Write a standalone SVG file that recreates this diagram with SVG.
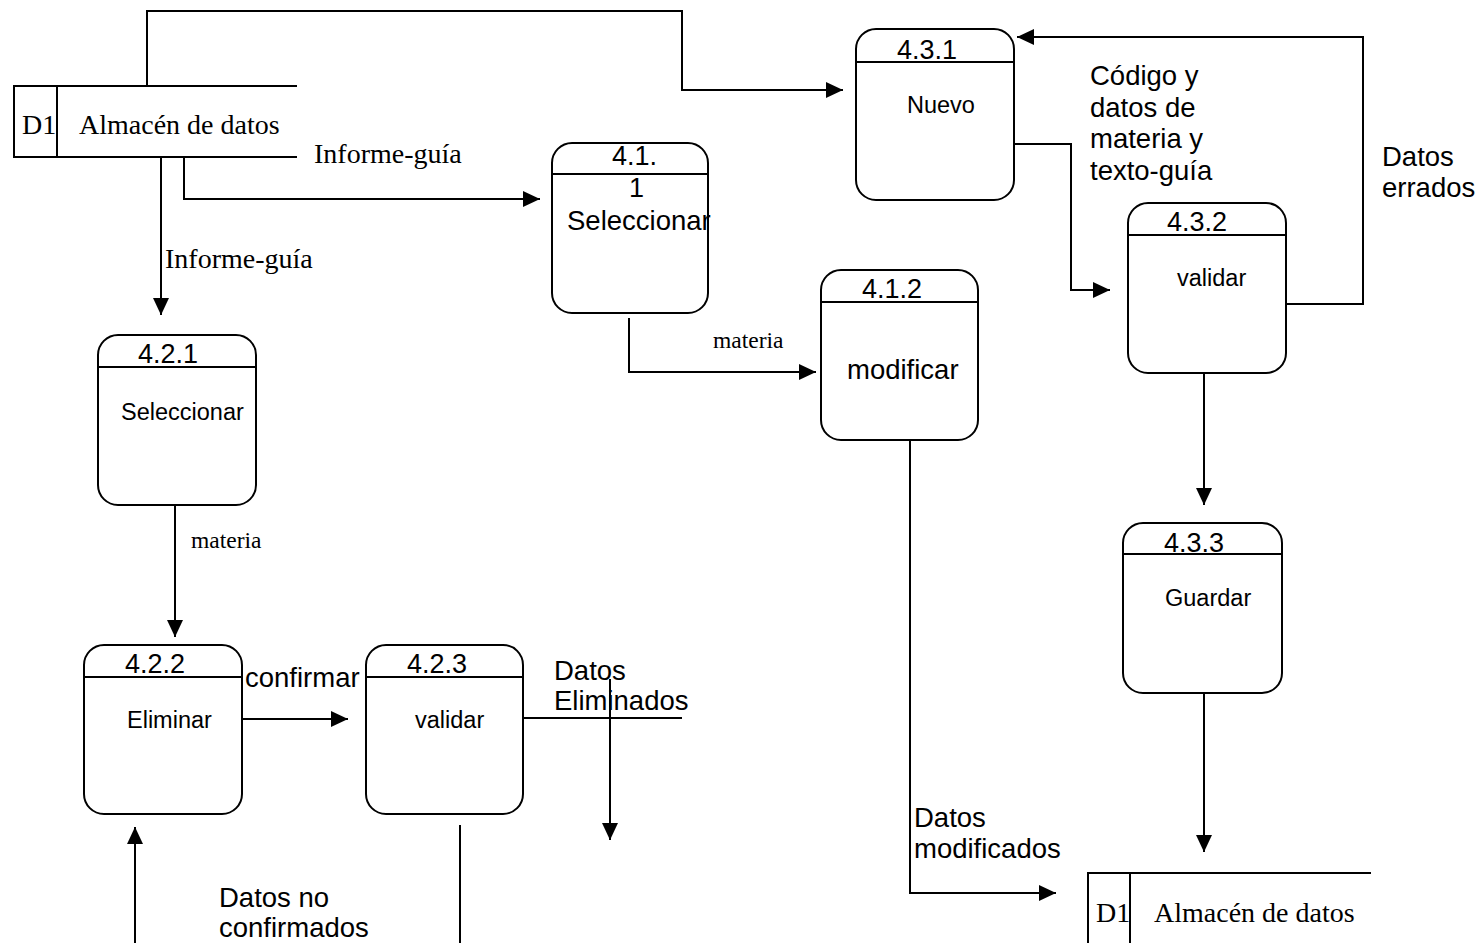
<svg xmlns="http://www.w3.org/2000/svg" width="1483" height="943" viewBox="0 0 1483 943">
<style>
.box{fill:none;stroke:#000;stroke-width:2}
.ln{fill:none;stroke:#000;stroke-width:2}
.ar{fill:none;stroke:#000;stroke-width:2;marker-end:url(#ah)}
.num{font-family:"Liberation Sans",Arial,sans-serif;font-size:27px;fill:#000}
.lbl{font-family:"Liberation Sans",Arial,sans-serif;font-size:23.5px;fill:#000}
.big{font-family:"Liberation Sans",Arial,sans-serif;font-size:27.5px;fill:#000}
.ser{font-family:"Liberation Serif","Times New Roman",serif;font-size:28px;fill:#000}
.ser2{font-family:"Liberation Serif","Times New Roman",serif;font-size:28px;fill:#000}
.sm{font-family:"Liberation Serif","Times New Roman",serif;font-size:23.5px;fill:#000}
</style>
<defs>
<marker id="ah" markerWidth="17" markerHeight="16" refX="17" refY="8" orient="auto" markerUnits="userSpaceOnUse">
<path d="M0,0 L17,8 L0,16 Z" fill="#000"/>
</marker>
</defs>
<rect width="1483" height="943" fill="#fff"/>

<g id="connectors">
<polyline class="ar" points="147,86 147,11 682,11 682,90 843,90"/>
<polyline class="ar" points="184,157 184,199 540,199"/>
<polyline class="ar" points="161,157 161,315"/>
<polyline class="ar" points="629,318 629,372 816,372"/>
<polyline class="ar" points="1014,144 1071,144 1071,290 1110,290"/>
<polyline class="ar" points="1286,304 1363,304 1363,37 1017,37"/>
<polyline class="ar" points="1204,373 1204,505"/>
<polyline class="ar" points="1204,693 1204,852"/>
<polyline class="ar" points="910,440 910,893 1056,893"/>
<polyline class="ar" points="175,505 175,637"/>
<polyline class="ar" points="242,719 348,719"/>
<line class="ln" x1="523" y1="718" x2="682" y2="718"/>
<polyline class="ar" points="610,679 610,840"/>
<polyline class="ar" points="135,943 135,827"/>
<line class="ln" x1="460" y1="825" x2="460" y2="943"/>
<text class="ser2" x="314" y="163">Informe-guía</text>
<text class="ser2" x="165" y="268">Informe-guía</text>
<text class="sm" x="713" y="348">materia</text>
<text class="sm" x="191" y="548">materia</text>
<text class="big" x="1090" y="85">Código y</text>
<text class="big" x="1090" y="117">datos de</text>
<text class="big" x="1090" y="148">materia y</text>
<text class="big" x="1090" y="180">texto-guía</text>
<text class="big" x="1382" y="166">Datos</text>
<text class="big" x="1382" y="197">errados</text>
<text class="big" x="914" y="827">Datos</text>
<text class="big" x="914" y="858">modificados</text>
<text class="big" x="245" y="687">confirmar</text>
<text class="big" x="554" y="680">Datos</text>
<text class="big" x="554" y="710">Eliminados</text>
<text class="big" x="219" y="907">Datos no</text>
<text class="big" x="219" y="937">confirmados</text>
</g>

<g id="store-top">
<polyline class="ln" points="297,86 14,86 14,157 297,157"/>
<line class="ln" x1="57" y1="86" x2="57" y2="157"/>
<text class="ser" x="22" y="134">D1</text>
<text class="ser" x="79" y="134">Almacén de datos</text>
</g>

<g id="store-bottom">
<polyline class="ln" points="1371,873 1088,873 1088,943"/>
<line class="ln" x1="1130" y1="873" x2="1130" y2="943"/>
<text class="ser" x="1096" y="922">D1</text>
<text class="ser" x="1154" y="922">Almacén de datos</text>
</g>

<g id="p411">
<rect class="box" x="552" y="143" width="156" height="170" rx="20"/>
<line class="ln" x1="552" y1="174" x2="708" y2="174"/>
<text class="num" x="612" y="165">4.1.</text>
<text class="num" x="629" y="197">1</text>
<text class="big" x="567" y="230">Seleccionar</text>
</g>

<g id="p412">
<rect class="box" x="821" y="270" width="157" height="170" rx="20"/>
<line class="ln" x1="821" y1="302" x2="978" y2="302"/>
<text class="num" x="862" y="298">4.1.2</text>
<text class="big" x="847" y="379">modificar</text>
</g>

<g id="p431">
<rect class="box" x="856" y="29" width="158" height="171" rx="20"/>
<line class="ln" x1="856" y1="62" x2="1014" y2="62"/>
<text class="num" x="897" y="59">4.3.1</text>
<text class="lbl" x="907" y="113">Nuevo</text>
</g>

<g id="p432">
<rect class="box" x="1128" y="203" width="158" height="170" rx="20"/>
<line class="ln" x1="1128" y1="235" x2="1286" y2="235"/>
<text class="num" x="1167" y="231">4.3.2</text>
<text class="lbl" x="1177" y="286">validar</text>
</g>

<g id="p433">
<rect class="box" x="1123" y="523" width="159" height="170" rx="20"/>
<line class="ln" x1="1123" y1="554" x2="1282" y2="554"/>
<text class="num" x="1164" y="552">4.3.3</text>
<text class="lbl" x="1165" y="606">Guardar</text>
</g>

<g id="p421">
<rect class="box" x="98" y="335" width="158" height="170" rx="20"/>
<line class="ln" x1="98" y1="367" x2="256" y2="367"/>
<text class="num" x="138" y="363">4.2.1</text>
<text class="lbl" x="121" y="420">Seleccionar</text>
</g>

<g id="p422">
<rect class="box" x="84" y="645" width="158" height="169" rx="20"/>
<line class="ln" x1="84" y1="677" x2="242" y2="677"/>
<text class="num" x="125" y="673">4.2.2</text>
<text class="lbl" x="127" y="728">Eliminar</text>
</g>

<g id="p423">
<rect class="box" x="366" y="645" width="157" height="169" rx="20"/>
<line class="ln" x1="366" y1="677" x2="523" y2="677"/>
<text class="num" x="407" y="673">4.2.3</text>
<text class="lbl" x="415" y="728">validar</text>
</g>
</svg>
